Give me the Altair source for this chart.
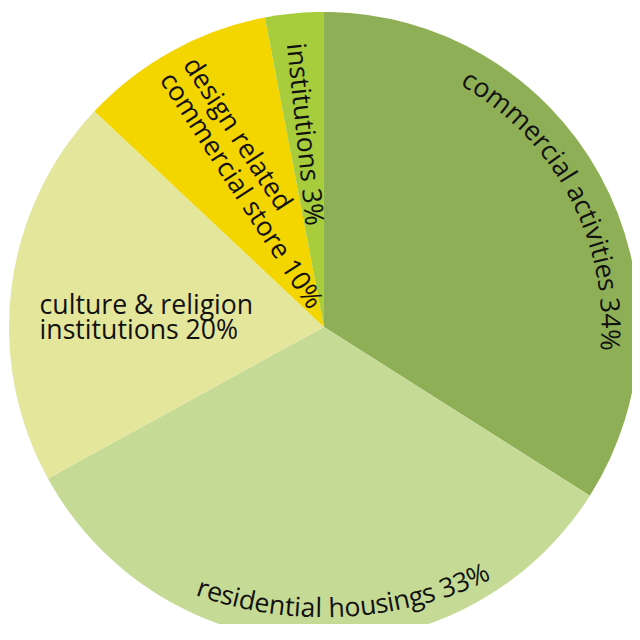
import math
import altair as alt
import pandas as pd

# ---- data ----
categories = [
    "commercial activities",
    "residential housings",
    "culture & religion institutions",
    "design related commercial store",
    "institutions",
]
values = [34, 33, 20, 10, 3]
colors = ["#8faf56", "#c5da94", "#e4e69b", "#f3d500", "#a7cc3c"]

# label texts (line broken as in the reference)
curved_labels = ["commercial activities 34%", "residential housings 33%"]
culture_label = "culture & religion\ninstitutions 20%"
design_label = "design related\ncommercial store 10%"
institutions_label = "institutions 3%"

# ---- layout (pixels within the plot area) ----
W, H = 632, 620
CX, CY = 320, 319
R = 319
FONT = "Open Sans"
FS = 27

ADV = {
    "a": .556, "c": .479, "d": .613, "e": .561, "g": .546, "h": .613, "i": .258,
    "l": .258, "m": .926, "n": .613, "o": .602, "r": .408, "s": .439, "t": .352,
    "u": .613, "v": .518, " ": .26, "3": .572, "4": .572, "%": .82, "&": .721,
}


def curved(text, cx, cy, r, phi_start, phi_end):
    pos, centers = 0.0, []
    for ch in text:
        w = ADV.get(ch, .55)
        centers.append(pos + w / 2)
        pos += w
    a0, a1 = centers[0], centers[-1]
    rows = []
    for ch, c in zip(text, centers):
        if ch == " ":
            continue
        t = (c - a0) / (a1 - a0)
        phi = phi_start + t * (phi_end - phi_start)
        rad = math.radians(phi)
        ang = phi if phi_end > phi_start else phi - 180
        rows.append({"t": ch, "x": cx + r * math.sin(rad),
                     "y": cy - r * math.cos(rad), "angle": ang % 360})
    return rows


char_rows = curved(curved_labels[0], CX, CY, 289, 30.6, 92.6) + \
    curved(curved_labels[1], 320, 222, 383, 198.7, 155.9)
inst_rows = [{"t": institutions_label, "x": 300, "y": 124, "angle": 84}]
center_df = pd.DataFrame(char_rows + inst_rows)

culture_df = pd.DataFrame([{"t": culture_label, "x": 32, "y": 284.5, "angle": 0}])
design_df = pd.DataFrame([{"t": design_label, "x": 194, "y": 42, "angle": 57}])

pie_df = pd.DataFrame({"category": categories, "value": values,
                       "order": list(range(len(values)))})

arcs = alt.Chart(pie_df).mark_arc(radius=R, clip=True).encode(
    theta=alt.Theta("value:Q", stack=True),
    color=alt.Color("category:N", scale=alt.Scale(domain=categories, range=colors), legend=None),
    order=alt.Order("order:Q"),
    x=alt.value(CX),
    y=alt.value(CY),
)

txt_enc = dict(
    x=alt.X("x:Q", scale=None, axis=None),
    y=alt.Y("y:Q", scale=None, axis=None),
    text=alt.Text("t:N"),
    angle=alt.Angle("angle:Q", scale=None),
)

center_txt = alt.Chart(center_df).mark_text(
    font=FONT, fontSize=FS, align="center", baseline="middle", color="#111111"
).encode(**txt_enc)

culture_txt = alt.Chart(culture_df).mark_text(
    font=FONT, fontSize=FS, align="left", baseline="top", color="#111111",
    lineBreak="\n", lineHeight=26
).encode(**txt_enc)

design_txt = alt.Chart(design_df).mark_text(
    font=FONT, fontSize=FS, align="left", baseline="top", color="#111111",
    lineBreak="\n", lineHeight=28
).encode(**txt_enc)

chart = alt.layer(arcs, center_txt, culture_txt, design_txt).properties(
    width=W, height=H, padding=0
).configure_view(stroke=None)

chart.save("out.html", embed_options={"renderer": "svg", "actions": False})
